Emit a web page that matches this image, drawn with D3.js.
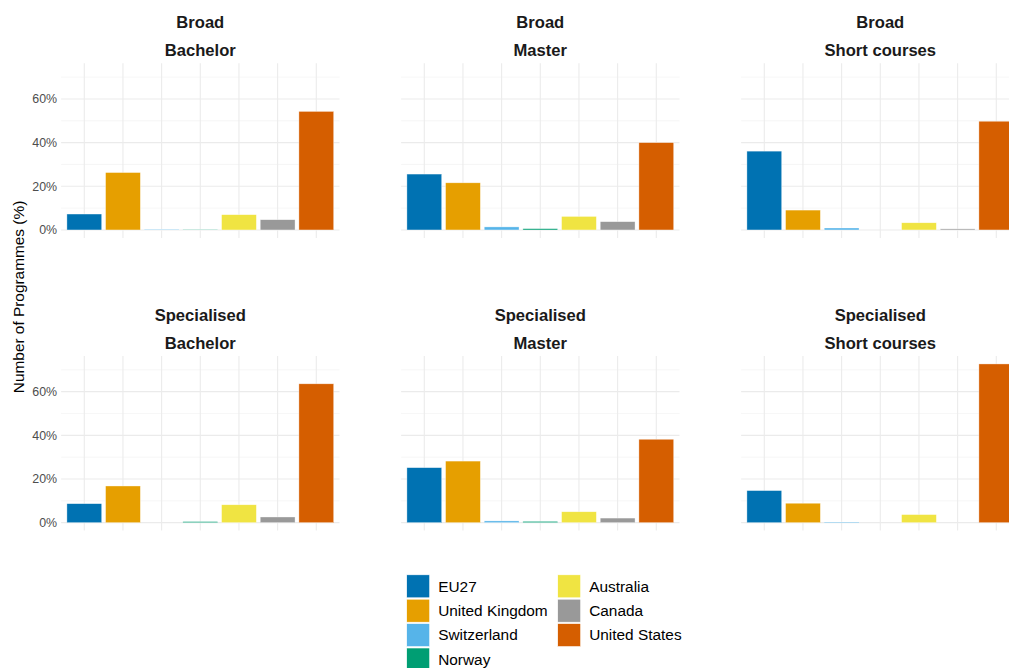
<!DOCTYPE html>
<html>
<head>
<meta charset="utf-8">
<script src="https://cdn.jsdelivr.net/npm/d3@7"></script>
<style>
  html, body { margin: 0; padding: 0; background: #fff; }
  svg { display: block; font-family: "Liberation Sans", Arial, sans-serif; }
</style>
</head>
<body>
<svg id="chart" width="1009" height="668"></svg>
<script>
// Share of programmes (%) by provider country, per programme type and level
const countries = ["EU27", "United Kingdom", "Switzerland", "Norway", "Australia", "Canada", "United States"];
const programmeTypes = ["Broad", "Specialised"];
const levels = ["Bachelor", "Master", "Short courses"];

const broadBachelor       = [7.3, 26.3, 0.3, 0.2, 7.0, 4.7, 54.3];
const broadMaster         = [25.6, 21.6, 1.4, 0.6, 6.2, 3.8, 40.0];
const broadShort          = [36.1, 9.1, 0.9, 0.0, 3.3, 0.5, 49.8];
const specialisedBachelor = [8.7, 16.8, 0.0, 0.5, 8.2, 2.6, 63.6];
const specialisedMaster   = [25.2, 28.2, 0.8, 0.6, 5.0, 2.1, 38.2];
const specialisedShort    = [14.7, 8.9, 0.3, 0.0, 3.7, 0.0, 72.7];

const yTicks = [0, 20, 40, 60];
const yMinorTicks = [10, 30, 50, 70];

const palette = ["#0072B2", "#E69F00", "#56B4E9", "#009E73", "#F0E442", "#999999", "#D55E00"];

const panelValues = [
  [broadBachelor, broadMaster, broadShort],
  [specialisedBachelor, specialisedMaster, specialisedShort]
];

const svg = d3.select("#chart");

// facet layout
const panelLefts = [61.1, 401.1, 741.1];
const panelWidth = 278.4;
const panelTops = [63.3, 356.0];
const panelHeight = 174.6;

const colour = d3.scaleOrdinal().domain(countries).range(palette);

const allValues = panelValues.flat(2);
const yMax = d3.max(allValues);
const yDomain = [-0.05 * yMax, 1.05 * yMax];

panelValues.forEach((row, r) => {
  row.forEach((vals, c) => {
    const x0 = panelLefts[c];
    const y0 = panelTops[r];
    const x = d3.scaleBand()
      .domain(countries)
      .range([x0, x0 + panelWidth])
      .paddingInner(0.1)
      .paddingOuter(0.15);
    const y = d3.scaleLinear()
      .domain(yDomain)
      .range([y0 + panelHeight, y0]);

    const g = svg.append("g");

    // minor horizontal grid
    g.selectAll("line.minor")
      .data(yMinorTicks)
      .join("line")
      .attr("x1", x0).attr("x2", x0 + panelWidth)
      .attr("y1", d => y(d)).attr("y2", d => y(d))
      .attr("stroke", "#F2F2F2").attr("stroke-width", 0.7);

    // major horizontal grid
    g.selectAll("line.major")
      .data(yTicks)
      .join("line")
      .attr("x1", x0).attr("x2", x0 + panelWidth)
      .attr("y1", d => y(d)).attr("y2", d => y(d))
      .attr("stroke", "#EBEBEB").attr("stroke-width", 1.1);

    // vertical grid at each category
    g.selectAll("line.vgrid")
      .data(countries)
      .join("line")
      .attr("x1", d => x(d) + x.bandwidth() / 2)
      .attr("x2", d => x(d) + x.bandwidth() / 2)
      .attr("y1", y0).attr("y2", y0 + panelHeight)
      .attr("stroke", "#EBEBEB").attr("stroke-width", 1.1);

    // bars
    g.selectAll("rect.bar")
      .data(countries.map((k, i) => ({ country: k, value: vals[i] })).filter(d => d.value > 0))
      .join("rect")
      .attr("x", d => x(d.country))
      .attr("width", x.bandwidth())
      .attr("y", d => y(d.value))
      .attr("height", d => y(0) - y(d.value))
      .attr("fill", d => colour(d.country))
      .attr("stroke", "#ffffff")
      .attr("stroke-opacity", 0.6)
      .attr("stroke-width", 0.6);

    // y tick labels on the left column only
    if (c === 0) {
      const axis = d3.axisLeft(y)
        .tickValues(yTicks)
        .tickSize(0)
        .tickPadding(4)
        .tickFormat(d => d + "%");
      const ax = svg.append("g")
        .attr("transform", `translate(${x0},0)`)
        .call(axis);
      ax.select(".domain").remove();
      ax.selectAll("text")
        .attr("fill", "#4D4D4D")
        .style("font-size", "12.4px")
        .style("font-family", "'Liberation Sans', Arial, sans-serif");
    }

    // two-line strip label
    const cx = x0 + panelWidth / 2;
    const strip = svg.append("g")
      .attr("fill", "#1A1A1A")
      .style("font-size", "16.6px")
      .style("font-weight", "bold")
      .attr("text-anchor", "middle");
    strip.append("text").attr("x", cx).attr("y", y0 - 35.2).text(programmeTypes[r]);
    strip.append("text").attr("x", cx).attr("y", y0 - 7.3).text(levels[c]);
  });
});

// y axis title
svg.append("text")
  .attr("transform", `translate(23.5,${(panelTops[0] + panelTops[1] + panelHeight) / 2}) rotate(-90)`)
  .attr("text-anchor", "middle")
  .attr("fill", "#000")
  .style("font-size", "15.4px")
  .text("Number of Programmes (%)");

// legend, filled column-wise in two columns
const legendX = [406.7, 557.7];
const legendY = 574.8;
const keyPitch = 24.4;
const keySize = 23;
const perColumn = 4;
const legend = svg.append("g");
countries.forEach((k, i) => {
  const col = Math.floor(i / perColumn);
  const row = i % perColumn;
  const lx = legendX[col];
  const ly = legendY + row * keyPitch;
  legend.append("rect")
    .attr("x", lx).attr("y", ly)
    .attr("width", keySize).attr("height", keySize)
    .attr("fill", colour(k))
    .attr("stroke", "#ffffff").attr("stroke-width", 0.6);
  legend.append("text")
    .attr("x", lx + keySize + 8.5)
    .attr("y", ly + keySize / 2)
    .attr("dy", "0.35em")
    .attr("fill", "#000")
    .style("font-size", "15.4px")
    .text(k);
});
</script>
</body>
</html>
